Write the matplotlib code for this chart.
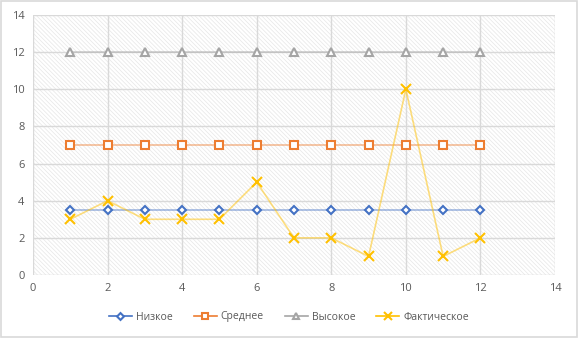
import matplotlib.pyplot as plt
from matplotlib.patches import Rectangle
from matplotlib.lines import Line2D

x = [1, 2, 3, 4, 5, 6, 7, 8, 9, 10, 11, 12]
low = [3.5] * 12
mid = [7] * 12
high = [12] * 12
fact = [3, 4, 3, 3, 3, 5, 2, 2, 1, 10, 1, 2]
labels = ['Низкое', 'Среднее', 'Высокое', 'Фактическое']

plt.rcParams['font.family'] = ['Open Sans', 'DejaVu Sans']
plt.rcParams['hatch.linewidth'] = 0.5

fig = plt.figure(figsize=(5.78, 3.38), dpi=100)
ax = fig.add_axes([33 / 578, 1 - 275 / 338, (555 - 33) / 578, (275 - 15) / 338])
fig.patches.append(Rectangle((0.002, 0.003), 0.996, 0.994, transform=fig.transFigure,
                             fill=False, edgecolor='#d9d9d9', linewidth=1.2))

# hatched plot area
ax.add_patch(Rectangle((0, 0), 14, 14, facecolor='white', edgecolor='#e6e6e6',
                       linewidth=0, hatch='\\' * 8, zorder=0))

series = [
    (low, '#4472c4', 'D', 4.5),
    (mid, '#ed7d31', 's', 6),
    (high, '#a5a5a5', '^', 6),
    (fact, '#ffc000', 'x', 7),
]
for vals, col, m, ms in series:
    ax.plot(x, vals, color=col, alpha=0.5, linewidth=1.2, zorder=2)
    ax.plot(x, vals, linestyle='none', marker=m, markersize=ms,
            markerfacecolor='white' if m != 'x' else col,
            markeredgecolor=col, markeredgewidth=1.5, zorder=3)

leg_handles = [Line2D([0], [0], color=c, linewidth=1.2, marker=m, markersize=ms - 1,
                      markerfacecolor='white' if m != 'x' else c, markeredgecolor=c,
                      markeredgewidth=1.5) for _, c, m, ms in series]
fig.legend(leg_handles, labels, loc='center', bbox_to_anchor=(0.5, 1 - 317 / 338), ncol=4,
           frameon=False, fontsize=7.5, labelcolor='#595959', handlelength=2.2,
           columnspacing=2.0, handletextpad=0.4)

ax.set_xlim(0, 14)
ax.set_ylim(0, 14)
ax.set_xticks(range(0, 15, 2))
ax.set_yticks(range(0, 15, 2))
ax.grid(True, color='#d9d9d9', linewidth=1)
ax.set_axisbelow(True)
for s in ax.spines.values():
    s.set_visible(False)
ax.tick_params(length=0, labelsize=8, labelcolor='#595959', pad=6)

fig.savefig('out.png', dpi=100)
